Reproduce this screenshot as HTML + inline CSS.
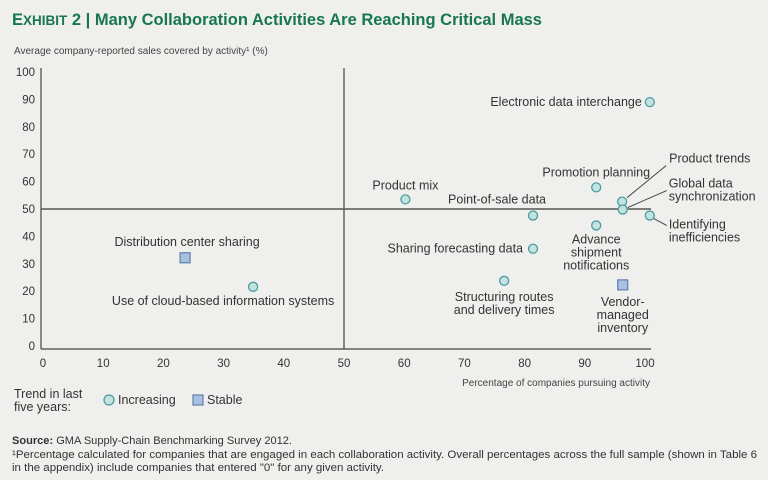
<!DOCTYPE html>
<html><head><meta charset="utf-8"><style>
body{margin:0;width:768px;height:480px;background:#efefed;font-family:"Liberation Sans",sans-serif;overflow:hidden}
svg{display:block}
</style></head><body>
<svg width="768" height="480">
<text x="12" y="25" font-size="16.5" font-weight="bold" fill="#18774f">E<tspan font-size="13.5">XHIBIT</tspan> 2 | Many Collaboration Activities Are Reaching Critical Mass</text>
<text x="14" y="54" font-size="10" fill="#444">Average company-reported sales covered by activity¹ (%)</text>
<g id="axes"></g>
<g id="marks"></g>
<text x="650" y="386" font-size="10" fill="#444" text-anchor="end">Percentage of companies pursuing activity</text>
<g font-size="12.5" fill="#333">
<text x="14" y="398">Trend in last</text><text x="14" y="411">five years:</text>
<circle cx="109" cy="400" r="5" fill="#c3e2e0" stroke="#4c9ca2" stroke-width="1.3"/>
<text x="118" y="404">Increasing</text>
<rect x="193" y="395" width="10" height="10" fill="#a9c0df" stroke="#5f80ad" stroke-width="1.2"/>
<text x="207" y="404">Stable</text>
</g>
<g font-size="11.2" fill="#333">
<text x="12" y="444" textLength="280" lengthAdjust="spacingAndGlyphs"><tspan font-weight="bold">Source:</tspan> GMA Supply-Chain Benchmarking Survey 2012.</text>
<text x="12" y="458" textLength="745" lengthAdjust="spacingAndGlyphs">¹Percentage calculated for companies that are engaged in each collaboration activity. Overall percentages across the full sample (shown in Table 6</text>
<text x="12" y="471" textLength="372" lengthAdjust="spacingAndGlyphs">in the appendix) include companies that entered "0" for any given activity.</text>
</g>
</svg>
<script>
const ticks=[0,10,20,30,40,50,60,70,80,90,100];
const labels=["Electronic data interchange","Product mix","Promotion planning","Product trends","Global data synchronization","Identifying inefficiencies","Point-of-sale data","Advance shipment notifications","Sharing forecasting data","Structuring routes and delivery times","Use of cloud-based information systems","Distribution center sharing","Vendor-managed inventory"];
const xVals=[100.8,60.2,91.9,96.2,96.3,100.8,81.4,91.9,81.4,76.6,34.9,23.6,96.3];
const yVals=[89,53.5,57.9,52.7,49.8,47.6,47.6,44,35.5,23.8,21.6,32.2,22.3];
const trends=["inc","inc","inc","inc","inc","inc","inc","inc","inc","inc","inc","stable","stable"];
const NS="http://www.w3.org/2000/svg";
const X=v=>43+v*6.02, Y=v=>346-v*2.74;
function mk(t,a,p){const e=document.createElementNS(NS,t);for(const k in a)e.setAttribute(k,a[k]);p.appendChild(e);return e;}
const ax=document.getElementById('axes'), mg=document.getElementById('marks');
const ya=mk('line',{x1:41,y1:68,x2:41,y2:349,stroke:'#444','stroke-width':1.2},ax);


const xa=mk('line',{x1:41,y1:349,x2:651,y2:349,stroke:'#444','stroke-width':1.2},ax);


const vl=mk('line',{x1:X(50),y1:68,x2:X(50),y2:349,stroke:'#444','stroke-width':1.2},ax);


const hl=mk('line',{x1:41,y1:Y(50),x2:X(101),y2:Y(50),stroke:'#555','stroke-width':1.5},ax);


ticks.forEach(t=>{
 const a=mk('text',{x:35,y:Y(t)+4,'font-size':11.5,'text-anchor':'end',fill:'#333'},ax);a.textContent=t;
 
 
 const b=mk('text',{x:X(t),y:367,'font-size':11.5,'text-anchor':'middle',fill:'#333'},ax);b.textContent=t;
 
 
});
const lab=[
 {dx:-8,dy:4,a:'end',lines:["Electronic data interchange"]},
 {dx:0,dy:-10,a:'middle',lines:["Product mix"]},
 {dx:0,dy:-11,a:'middle',lines:["Promotion planning"]},
 {dx:47,dy:-39,a:'start',lines:["Product trends"],lead:[5,-4,44,-36]},
 {dx:46,dy:-22,a:'start',lines:["Global data","synchronization"],lead:[5,-2,44,-19]},
 {dx:19,dy:13,a:'start',lines:["Identifying","inefficiencies"],lead:[4,3,17,10]},
 {dx:13,dy:-12,a:'end',lines:["Point-of-sale data"]},
 {dx:0,dy:18,a:'middle',lines:["Advance","shipment","notifications"]},
 {dx:-10,dy:4,a:'end',lines:["Sharing forecasting data"]},
 {dx:0,dy:20,a:'middle',lines:["Structuring routes","and delivery times"]},
 {dx:-30,dy:18,a:'middle',lines:["Use of cloud-based information systems"]},
 {dx:2,dy:-12,a:'middle',lines:["Distribution center sharing"]},
 {dx:0,dy:21,a:'middle',lines:["Vendor-","managed","inventory"]}
];
labels.forEach((n,i)=>{
 const cx=X(xVals[i]),cy=Y(yVals[i]);
 let m;
 if(trends[i]==='stable'){m=mk('rect',{x:cx-5,y:cy-5,width:10,height:10,fill:'#a9c0df',stroke:'#5f80ad','stroke-width':1.2},mg);}
 else{m=mk('circle',{cx:cx,cy:cy,r:4.5,fill:'#c3e2e0',stroke:'#4c9ca2','stroke-width':1.3},mg);}
 
 
 const L=lab[i];
 if(L.lead){const l=mk('line',{x1:cx+L.lead[0],y1:cy+L.lead[1],x2:cx+L.lead[2],y2:cy+L.lead[3],stroke:'#444','stroke-width':1},mg);
  
  }
 const t=mk('text',{x:cx+L.dx,y:cy+L.dy,'font-size':12.5,'text-anchor':L.a,fill:'#333'},mg);
 
 
 L.lines.forEach((s,j)=>{const ts=mk('tspan',{x:cx+L.dx,dy:j?13:0},t);ts.textContent=s;});
});
</script>
</body></html>
